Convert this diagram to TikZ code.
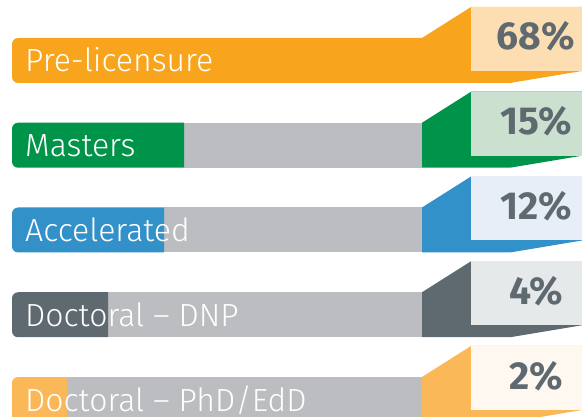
\documentclass[tikz,border=0pt]{standalone}
\usepackage{fontspec}
\setmainfont{Fira Sans}
\newfontfamily\lightfont{Fira Sans Light}
\usetikzlibrary{positioning}

\definecolor{preorange}{HTML}{F8A51D}
\definecolor{preorangelt}{HTML}{FDDEB2}
\definecolor{mastergreen}{HTML}{00934A}
\definecolor{mastergreenlt}{HTML}{CCE0CF}
\definecolor{accblue}{HTML}{3391C9}
\definecolor{accbluelt}{HTML}{E7EEF8}
\definecolor{dnpslate}{HTML}{5F6A70}
\definecolor{dnpslatelt}{HTML}{E6E9EA}
\definecolor{phdamber}{HTML}{FBB858}
\definecolor{phdamberlt}{HTML}{FEF8F0}
\definecolor{bargrey}{HTML}{BCBDC0}
\definecolor{pcgrey}{HTML}{5F6A70}

\begin{document}
\begin{tikzpicture}[x=1pt, y=-1pt,
  label text/.style={anchor=base west, text=white, inner sep=0pt,
    font=\lightfont\fontsize{32}{32}\selectfont},
  pct text/.style={anchor=base, text=pcgrey, inner sep=0pt,
    font=\fontsize{39}{39}\selectfont\bfseries}]
  \useasboundingbox (0,0) rectangle (582,417);
  % one row per programme: bar, flag and percentage box
  \foreach \name/\pc/\w/\dk/\lt [count=\i from 0] in
    {Pre-licensure/68/422/preorange/preorangelt,
     Masters/15/184/mastergreen/mastergreenlt,
     Accelerated/12/164/accblue/accbluelt,
     {Doctoral – DNP}/4/108/dnpslate/dnpslatelt,
     {Doctoral – PhD/EdD}/2/67/phdamber/phdamberlt}{
    \pgfmathsetmacro\t{38+84.75*\i}
    \pgfmathsetmacro\b{\t+45}
    \pgfmathsetmacro\bt{\t-31}
    \pgfmathsetmacro\bb{\t+33}
    \fill[bargrey] (\w,\t) rectangle (422,\b);
    \fill[\dk] (\w,\t) [rounded corners=6pt] -- (12,\t) -- (12,\b)
      [sharp corners] -- (\w,\b) -- cycle;
    \fill[\dk] (422,\t) -- (471,\bt) -- (582,\bt) -- (582,\bb)
      -- (510,\b) -- (422,\b) -- cycle;
    \fill[\lt] (471,\bt) rectangle (582,\bb);
    \node[label text] (lab\i) at (25,\t+34) {\name};
    \node[pct text] (pc\i) at (536,\bt+43) {\pc\%};
  }
\end{tikzpicture}
\end{document}
